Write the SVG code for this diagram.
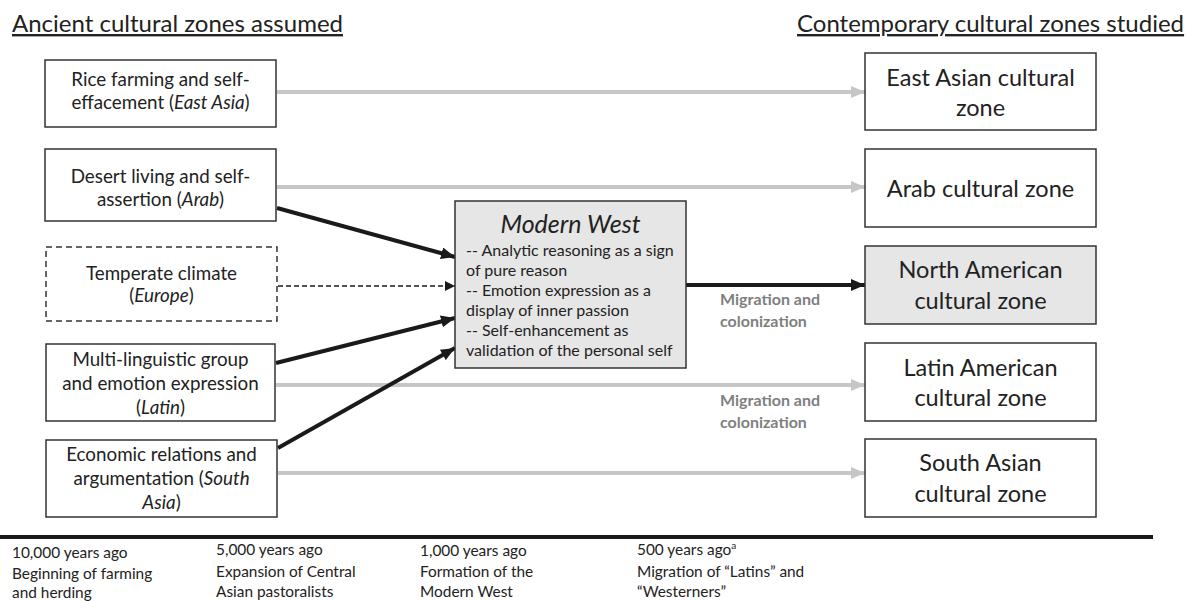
<svg xmlns="http://www.w3.org/2000/svg" width="1186" height="601" viewBox="0 0 1186 601">
<style>
text{font-family:Lato,"Liberation Sans",sans-serif;fill:#222}
.box{fill:#fff;stroke:#333;stroke-width:1.5}
.grey{fill:#e6e6e6}
.dash{stroke-dasharray:6 4}
.lt{font-size:18.8px;text-anchor:middle}
.rt{font-size:23.5px;text-anchor:middle}
.mw{font-size:16px}
.ttl{font-size:24px;text-decoration:underline}
.tl{font-size:15.4px}
.mig{font-size:16px;font-weight:bold;fill:#7f7f7f}
.ga{stroke:#c6c6c6;stroke-width:4;fill:none}
.ba{stroke:#1a1a1a;stroke-width:4;fill:none}
.da{stroke:#1a1a1a;stroke-width:1.5;stroke-dasharray:5 3;fill:none}
</style>
<defs>
<marker id="mg" markerUnits="userSpaceOnUse" markerWidth="14" markerHeight="12" refX="14" refY="6" orient="auto"><path d="M0,0 L14,6 L0,12 Z" fill="#c6c6c6"/></marker>
<marker id="mb" markerUnits="userSpaceOnUse" markerWidth="14" markerHeight="12" refX="14" refY="6" orient="auto"><path d="M0,0 L14,6 L0,12 Z" fill="#1a1a1a"/></marker>
<marker id="md" markerUnits="userSpaceOnUse" markerWidth="10" markerHeight="10" refX="10" refY="5" orient="auto"><path d="M0,0 L10,5 L0,10 Z" fill="#1a1a1a"/></marker>
</defs>

<text class="ttl" x="12" y="32">Ancient cultural zones assumed</text>
<text class="ttl" x="797" y="32">Contemporary cultural zones studied</text>

<g id="connectors">
<line class="ga" x1="277" y1="92" x2="865" y2="92" marker-end="url(#mg)"/>
<line class="ga" x1="277" y1="187" x2="865" y2="187" marker-end="url(#mg)"/>
<line class="ga" x1="276" y1="385" x2="865" y2="385" marker-end="url(#mg)"/>
<line class="ga" x1="278" y1="473" x2="865" y2="473" marker-end="url(#mg)"/>
<line class="ba" x1="277" y1="208" x2="455" y2="257" marker-end="url(#mb)"/>
<line class="da" x1="278" y1="286" x2="455" y2="286" marker-end="url(#md)"/>
<line class="ba" x1="276" y1="363" x2="455" y2="318" marker-end="url(#mb)"/>
<line class="ba" x1="278" y1="448" x2="455" y2="348" marker-end="url(#mb)"/>
<line class="ba" x1="686" y1="285" x2="865" y2="285" marker-end="url(#mb)"/>
<text class="mig" x="720" y="305">Migration and</text>
<text class="mig" x="720" y="327">colonization</text>
<text class="mig" x="720" y="406">Migration and</text>
<text class="mig" x="720" y="428">colonization</text>
</g>

<g id="n-eastasia-anc"><rect class="box" x="45" y="60" width="231" height="67"/>
<text class="lt" x="160.5" y="86">Rice farming and self-</text>
<text class="lt" x="160.5" y="109">effacement (<tspan font-style="italic">East Asia</tspan>)</text></g>

<g id="n-arab-anc"><rect class="box" x="45" y="149" width="231" height="72"/>
<text class="lt" x="160.5" y="183">Desert living and self-</text>
<text class="lt" x="160.5" y="206">assertion (<tspan font-style="italic">Arab</tspan>)</text></g>

<g id="n-europe-anc"><rect class="box dash" x="46" y="247" width="231" height="74"/>
<text class="lt" x="161.5" y="280">Temperate climate</text>
<text class="lt" x="161.5" y="302">(<tspan font-style="italic">Europe</tspan>)</text></g>

<g id="n-latin-anc"><rect class="box" x="46" y="344" width="229" height="77"/>
<text class="lt" x="160.5" y="366">Multi-linguistic group</text>
<text class="lt" x="160.5" y="390">and emotion expression</text>
<text class="lt" x="160.5" y="414">(<tspan font-style="italic">Latin</tspan>)</text></g>

<g id="n-southasia-anc"><rect class="box" x="46" y="440" width="231" height="77"/>
<text class="lt" x="161.5" y="461">Economic relations and</text>
<text class="lt" x="161.5" y="485">argumentation (<tspan font-style="italic">South</tspan></text>
<text class="lt" x="161.5" y="509"><tspan font-style="italic">Asia</tspan>)</text></g>

<g id="n-modernwest"><rect class="box grey" x="455" y="201" width="231" height="167"/>
<text x="570.5" y="233" font-size="25" font-style="italic" text-anchor="middle">Modern West</text>
<text class="mw" x="466" y="256">-- Analytic reasoning as a sign</text>
<text class="mw" x="466" y="276">of pure reason</text>
<text class="mw" x="466" y="296">-- Emotion expression as a</text>
<text class="mw" x="466" y="316">display of inner passion</text>
<text class="mw" x="466" y="336">-- Self-enhancement as</text>
<text class="mw" x="466" y="356">validation of the personal self</text></g>

<g id="n-eastasia"><rect class="box" x="865" y="53" width="231" height="77"/>
<text class="rt" x="980.5" y="86">East Asian cultural</text>
<text class="rt" x="980.5" y="116">zone</text></g>

<g id="n-arab"><rect class="box" x="865" y="149" width="231" height="78"/>
<text class="rt" x="980.5" y="197">Arab cultural zone</text></g>

<g id="n-northamerica"><rect class="box grey" x="865" y="246" width="231" height="78"/>
<text class="rt" x="980.5" y="278">North American</text>
<text class="rt" x="980.5" y="309">cultural zone</text></g>

<g id="n-latinamerica"><rect class="box" x="865" y="343" width="231" height="78"/>
<text class="rt" x="980.5" y="376">Latin American</text>
<text class="rt" x="980.5" y="406">cultural zone</text></g>

<g id="n-southasia"><rect class="box" x="865" y="439" width="231" height="78"/>
<text class="rt" x="980.5" y="471">South Asian</text>
<text class="rt" x="980.5" y="502">cultural zone</text></g>

<g id="timeline">
<line x1="0" y1="537" x2="1153" y2="537" stroke="#1a1a1a" stroke-width="4"/>
<text class="tl" x="12" y="558">10,000 years ago</text>
<text class="tl" x="12" y="579">Beginning of farming</text>
<text class="tl" x="12" y="598">and herding</text>
<text class="tl" x="216" y="555">5,000 years ago</text>
<text class="tl" x="216" y="577">Expansion of Central</text>
<text class="tl" x="216" y="597">Asian pastoralists</text>
<text class="tl" x="420" y="556">1,000 years ago</text>
<text class="tl" x="420" y="577">Formation of the</text>
<text class="tl" x="420" y="597">Modern West</text>
<text class="tl" x="637" y="555">500 years ago<tspan font-size="10" dy="-6">a</tspan></text>
<text class="tl" x="637" y="577">Migration of “Latins” and</text>
<text class="tl" x="637" y="597">“Westerners”</text>
</g>
</svg>
